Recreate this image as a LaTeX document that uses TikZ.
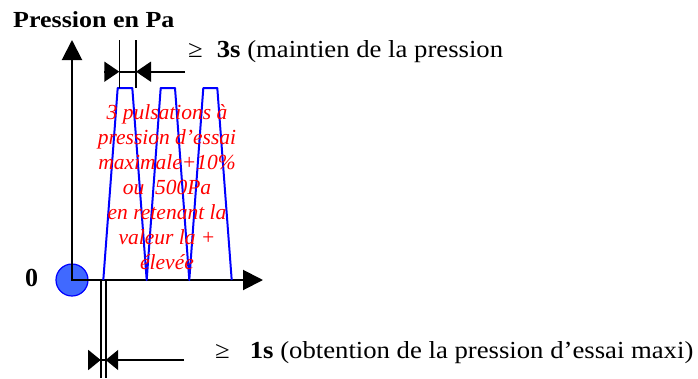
\documentclass[tikz,border=0pt]{standalone}
\usepackage{fontspec}
\setmainfont{Liberation Serif}
\newfontfamily\blkfont[FakeStretch=1.09]{Liberation Serif}
\newfontfamily\ttlfont[FakeStretch=1.13]{Liberation Serif}
\usetikzlibrary{arrows.meta}
\definecolor{pulseblue}{RGB}{0,0,255}
\definecolor{dotfill}{RGB}{64,105,255}
\definecolor{redtxt}{RGB}{255,0,0}
\begin{document}
\begin{tikzpicture}[x=1pt,y=-1pt,
  axis/.style={line width=2pt, {Triangle[length=20pt,width=20pt]}-{Triangle[length=20pt,width=20pt]}},
  dimline/.style={line width=1.6pt},
  dimarrow/.style={line width=1.6pt, -{Triangle[length=15pt,width=20pt]}},
  dimarrowsmall/.style={line width=1.6pt, -{Triangle[length=12.5pt,width=20pt]}},
  pulse/.style={pulseblue, line width=2pt, line join=round},
  lbl/.style={inner sep=0pt, anchor=base west, font=\blkfont\fontsize{24.5}{28}\selectfont},
  ttl/.style={inner sep=0pt, anchor=base west, font=\ttlfont\bfseries\fontsize{23}{27}\selectfont},
  note/.style={inner sep=0pt, align=center, text=redtxt, font=\itshape\fontsize{21.5}{25}\selectfont},
]
\useasboundingbox (0,0) rectangle (698,378);

% origin dot
\node[circle, draw=pulseblue, fill=dotfill, line width=1.2pt, minimum size=32pt, inner sep=0pt] (dot) at (72,280) {};

% axes
\coordinate (O) at (72,280);
\coordinate (ytip) at (72,40);
\coordinate (xtip) at (263,280);
\draw[axis] (ytip) -- (O) -- (xtip);

% pulses
\draw[pulse] (103.3,280) -- (117.7,88) -- (132.3,88) -- (146.7,280) -- (160.7,88) -- (175,88) -- (189.3,280) -- (203.3,88) -- (217.3,88) -- (231.7,280);

% top dimension (3s)
\coordinate (ta1) at (119.3,40);
\coordinate (ta2) at (119.3,88);
\coordinate (tb1) at (136,40);
\coordinate (tb2) at (136,88);
\draw[dimline] (ta1) -- (ta2);
\draw[dimline] (tb1) -- (tb2);
\coordinate (tl) at (104,71.7);
\coordinate (tm1) at (119.3,71.7);
\coordinate (tm2) at (136,71.7);
\coordinate (tr) at (185,71.7);
\draw[dimarrow] (tl) -- (tm1);
\draw[dimline] (tm1) -- (tm2);
\draw[dimarrow] (tr) -- (tm2);

% bottom dimension (1s)
\coordinate (ba1) at (100.7,280);
\coordinate (ba2) at (100.7,378);
\coordinate (bb1) at (105.7,280);
\coordinate (bb2) at (105.7,378);
\draw[dimline] (ba1) -- (ba2);
\draw[dimline] (bb1) -- (bb2);
\coordinate (bl) at (88.2,360);
\coordinate (bm1) at (100.7,360);
\coordinate (bm2) at (105.7,360);
\coordinate (br) at (184,360);
\draw[dimarrowsmall] (bl) -- (bm1);
\draw[dimline] (bm1) -- (bm2);
\draw[dimarrowsmall] (br) -- (bm2);

% texts
\node[ttl] (title) at (13,27) {Pression en Pa};
\node[lbl] (top) at (188,57) {≥\hspace{14pt}\textbf{3s} (maintien de la pression};
\node[lbl] (bot) at (215,358) {≥\hspace{20pt}\textbf{1s} (obtention de la pression d’essai maxi)};
\node[inner sep=0pt, anchor=base, font=\bfseries\fontsize{26}{30}\selectfont] (zero) at (31.5,286) {0};
\node[note] (txt) at (167,187) {3 pulsations à\\pression d’essai\\maximale+10\%\\ou\ \ 500Pa\\en retenant la\\valeur la +\\élevée};
\end{tikzpicture}
\end{document}
